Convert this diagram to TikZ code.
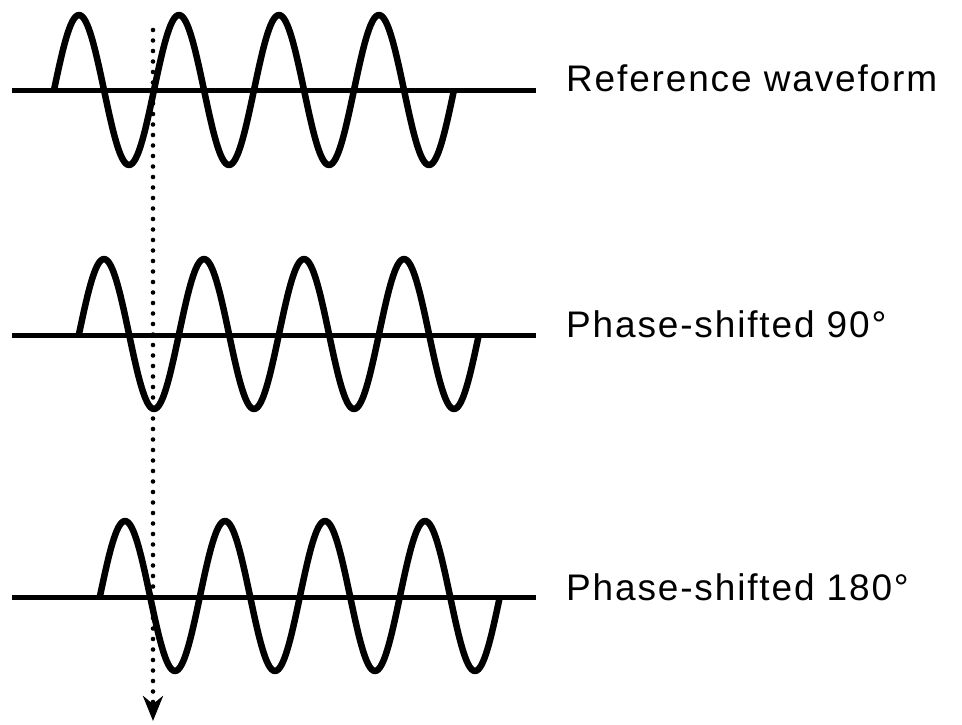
\documentclass[tikz,border=0pt]{standalone}
\usepackage{fontspec}
\setmainfont{Liberation Sans}[LetterSpace=5]
\usetikzlibrary{arrows.meta}
\begin{document}
\begin{tikzpicture}[x=1pt,y=-1pt,
  wave/.style={line width=6.5pt, line join=round},
  axisline/.style={line width=5pt},
  lbl/.style={anchor=base west, inner sep=0pt, font=\fontsize{37}{42}\selectfont},
  guide/.style={line width=4.6pt, line cap=round, dash pattern=on 0pt off 10.5pt,
    -{Stealth[length=25pt,width=20pt,inset=8pt]}}]
\useasboundingbox (0,0) rectangle (962,724);
% axes
\foreach \yy in {90,335,597}
  \draw[axisline] (12,\yy) -- (536,\yy);
% waves
\foreach \xs/\yy in {54/90, 79/334, 100/596}
  \draw[wave] plot[domain=0:400, samples=241, smooth] ({\xs+\x}, {\yy-75*sin(3.6*\x)});
% guide line
\coordinate (gtop) at (153,30);
\coordinate (gbot) at (153,721);
\draw[guide] (gtop) -- (gbot);
% labels
\node[lbl] (l1) at (566,91) {Reference waveform};
\node[lbl] (l2) at (566,337) {Phase-shifted 90°};
\node[lbl] (l3) at (566,600) {Phase-shifted 180°};
\end{tikzpicture}
\end{document}
